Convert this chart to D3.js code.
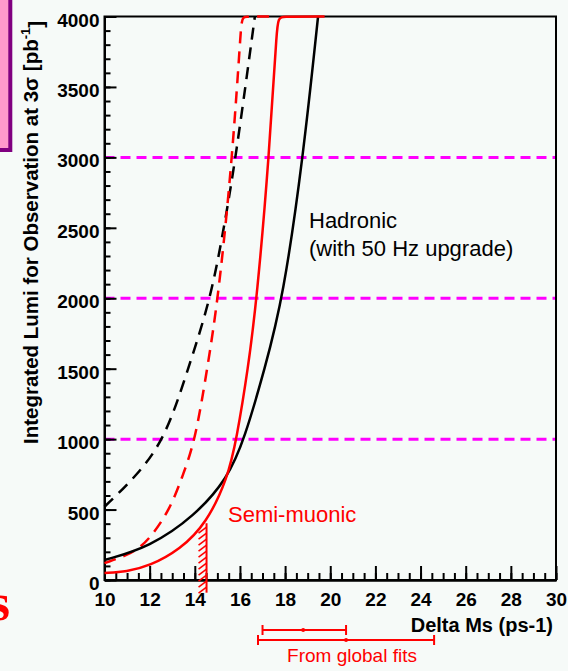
<!DOCTYPE html>
<html>
<head>
<meta charset="UTF-8">
<style>
  body { margin: 0; background: #f6faf8; }
  svg { display: block; }
  text { font-family: "Liberation Sans", Arial, sans-serif; }
</style>
</head>
<body>
<svg id="chart" width="568" height="671"></svg>
<script src="https://d3js.org/d3.v7.min.js"></script>
<script>
// curves: x = Delta Ms (ps-1), y = integrated lumi (pb-1)
var hadronicX = [10, 12, 14, 15.45, 16.2, 17.1, 17.91, 18.8, 19.46];
var hadronicY = [142, 234, 455, 720, 1000, 1500, 2000, 3000, 4000];
var hadronicDashX = [10, 11.4, 12.68, 13.71, 14.71, 15.29, 15.82, 16.66];
var hadronicDashY = [520, 735, 1000, 1500, 2000, 2500, 3000, 4000];
var semiX = [10, 10.98, 12, 13.34, 14.52, 15.45, 15.85, 16.36, 16.75, 17.29, 17.66, 17.72, 19.75];
var semiY = [50, 59, 100, 215, 403, 720, 1000, 1500, 2000, 3000, 3990, 4000, 4000];
var semiDashX = [10, 11.27, 12, 12.9, 13.49, 14.03, 14.55, 15.04, 15.67, 16.07, 16.1, 17.4];
var semiDashY = [120, 190, 290, 500, 750, 1000, 1500, 2000, 3000, 3990, 4000, 4000];
var refLines = [1000, 2000, 3000];
// hatched limit
var limitX = 14.52, limitTop = 403, limitBottom = -90;
// global fits (lo, mid, hi)
var fitLo = [17.0, 16.8];
var fitMid = [18.8, 20.7];
var fitHi = [20.7, 24.6];

var svg = d3.select("#chart");
var x = d3.scaleLinear().domain([10, 30]).range([104.5, 556]);
var y = d3.scaleLinear().domain([0, 4000]).range([580, 16.5]);

// left decoration box and cut text
svg.append("rect").attr("x", -10).attr("y", -10).attr("width", 20.3).attr("height", 160)
  .attr("fill", "#ff99cc").attr("stroke", "#800080").attr("stroke-width", 4);
svg.append("text").attr("x", 10).attr("y", 620).attr("text-anchor", "end")
  .style("font-family", "Liberation Serif, serif").style("font-weight", "bold")
  .style("font-size", "52px").attr("fill", "red").text("s");

// magenta reference lines
svg.selectAll(".ref").data(refLines).enter().append("line")
  .attr("x1", x(10)).attr("x2", x(30))
  .attr("y1", function (d) { return y(d) }).attr("y2", function (d) { return y(d) })
  .attr("stroke", "#ff00ff").attr("stroke-width", 3).attr("stroke-dasharray", "10,6");

// frame
svg.append("rect").attr("x", x(10)).attr("y", y(4000))
  .attr("width", x(30) - x(10)).attr("height", y(0) - y(4000))
  .attr("fill", "none").attr("stroke", "black").attr("stroke-width", 2);

// y axis
var yMinor = svg.append("g").attr("transform", "translate(" + x(10) + ",0)")
  .call(d3.axisLeft(y).tickValues(d3.range(0, 4001, 100)).tickSizeInner(-6).tickSizeOuter(0).tickFormat(""));
var yMajor = svg.append("g").attr("transform", "translate(" + x(10) + ",0)")
  .call(d3.axisLeft(y).tickValues(d3.range(0, 4001, 500)).tickSizeInner(-12).tickSizeOuter(0)
    .tickPadding(5).tickFormat(d3.format("d")));
yMajor.selectAll("text").attr("dy", "0.5em");

// x axis
var xMinor = svg.append("g").attr("transform", "translate(0," + y(0) + ")")
  .call(d3.axisBottom(x).tickValues(d3.range(10, 30.01, 0.5)).tickSizeInner(-7).tickSizeOuter(0).tickFormat(""));
var xMajor = svg.append("g").attr("transform", "translate(0," + y(0) + ")")
  .call(d3.axisBottom(x).tickValues(d3.range(10, 30.01, 2)).tickSizeInner(-14).tickSizeOuter(0)
    .tickPadding(13).tickFormat(d3.format("d")));

[yMinor, yMajor, xMinor, xMajor].forEach(function (g) {
  g.select(".domain").attr("stroke-width", 2);
  g.selectAll("line").attr("stroke-width", 2);
  g.selectAll("text").style("font-size", "19px").style("font-weight", "bold")
    .style("font-family", "Liberation Sans, Arial, sans-serif").attr("fill", "black");
});

// curves
var line = d3.line()
  .x(function (d) { return x(d[0]) })
  .y(function (d) { return y(d[1]) })
  .curve(d3.curveBasis);
function draw(xs, ys, color, dash) {
  svg.append("path").datum(d3.zip(xs, ys)).attr("d", line)
    .attr("fill", "none").attr("stroke", color).attr("stroke-width", 2.5)
    .attr("stroke-dasharray", dash);
}
draw(hadronicDashX, hadronicDashY, "black", "12,8");
draw(semiDashX, semiDashY, "red", "12,8");
draw(hadronicX, hadronicY, "black", null);
draw(semiX, semiY, "red", null);

// hatched limit
var hx = x(limitX);
svg.append("line").attr("x1", hx).attr("x2", hx)
  .attr("y1", y(limitTop)).attr("y2", y(limitBottom))
  .attr("stroke", "red").attr("stroke-width", 2);
svg.selectAll(".hatch").data(d3.range(y(limitTop) + 4, y(limitBottom), 6)).enter().append("line")
  .attr("x1", hx).attr("y1", function (d) { return d })
  .attr("x2", hx - 8).attr("y2", function (d) { return d + 6 })
  .attr("stroke", "red").attr("stroke-width", 1.6);

// labels
svg.append("text").attr("x", 309).attr("y", 228).style("font-size", "22px").text("Hadronic");
svg.append("text").attr("x", 309).attr("y", 256).style("font-size", "22px").text("(with 50 Hz upgrade)");
svg.append("text").attr("x", 228).attr("y", 522).style("font-size", "22px").attr("fill", "red").text("Semi-muonic");

svg.append("text").attr("x", 553).attr("y", 632).attr("text-anchor", "end")
  .style("font-size", "20px").style("font-weight", "bold").text("Delta Ms (ps-1)");

var yt = svg.append("text").attr("transform", "translate(38,444) rotate(-90)")
  .style("font-size", "20.5px").style("font-weight", "bold");
yt.append("tspan").text("Integrated Lumi for Observation at 3\u03C3  [pb");
yt.append("tspan").attr("dy", "-0.6em").style("font-size", "13px").text("-1");
yt.append("tspan").attr("dy", "0.6em").text("]");

// global fits error bars
var fitRows = [630, 640];
fitLo.forEach(function (lo, i) {
  var g = svg.append("g").attr("stroke", "red").attr("stroke-width", 2);
  var yy = fitRows[i];
  g.append("line").attr("x1", x(lo)).attr("x2", x(fitHi[i])).attr("y1", yy).attr("y2", yy);
  g.append("line").attr("x1", x(lo)).attr("x2", x(lo)).attr("y1", yy - 5).attr("y2", yy + 5);
  g.append("line").attr("x1", x(fitHi[i])).attr("x2", x(fitHi[i])).attr("y1", yy - 5).attr("y2", yy + 5);
  svg.append("circle").attr("cx", x(fitMid[i])).attr("cy", yy).attr("r", 2).attr("fill", "red");
});
svg.append("text").attr("x", 352).attr("y", 662).attr("text-anchor", "middle")
  .style("font-size", "19px").attr("fill", "red").text("From global fits");
</script>
</body>
</html>
